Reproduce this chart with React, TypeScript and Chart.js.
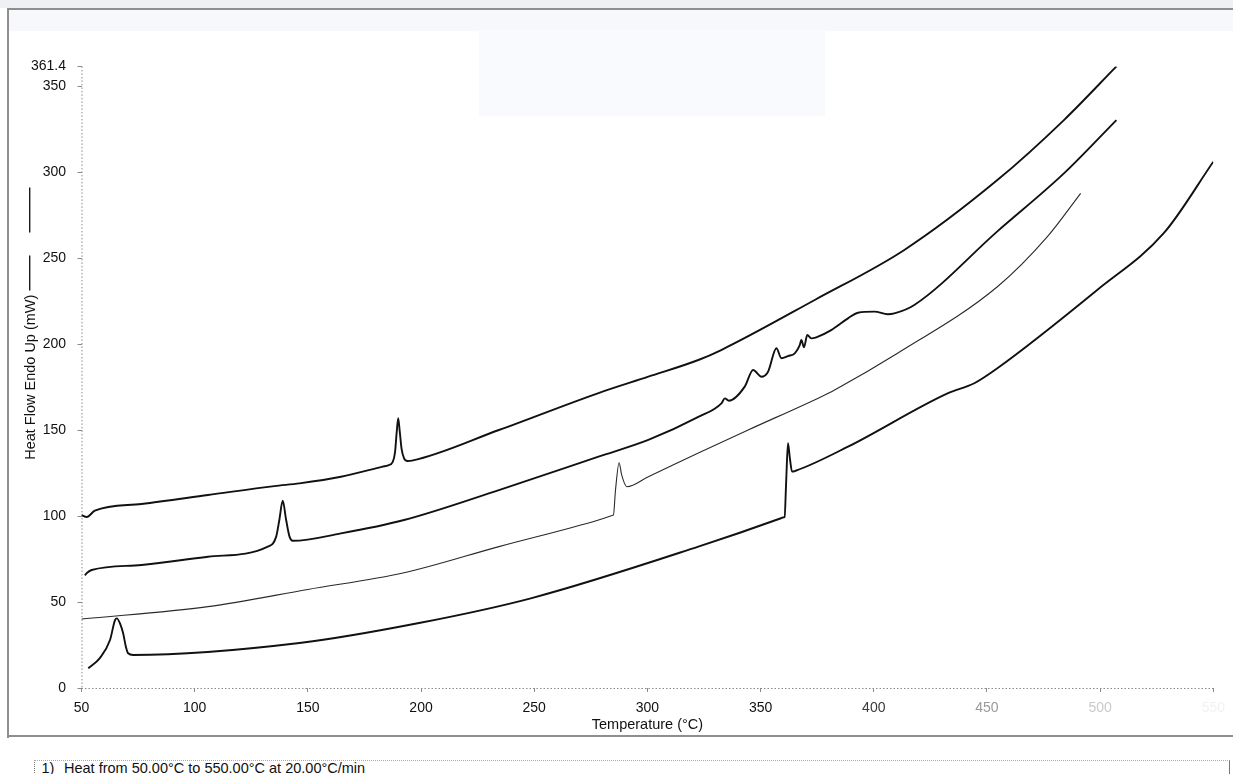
import React, { useEffect, useRef } from "react";
import { Chart, registerables } from "chart.js";

Chart.register(...registerables);

// Axis ticks
const xTicks = [50, 100, 150, 200, 250, 300, 350, 400, 450, 500, 550];
const yTicks = [0, 50, 100, 150, 200, 250, 300, 350, 361.4];

// Run 1 (top trace)
const run1Temp = [50, 52.3, 55.9, 76.5, 105.9, 135.2, 146.3, 164.6, 183.0, 185.5, 187.5, 188.5, 189.2, 189.9, 190.6, 191.4, 192.5, 194.0, 196.0, 234.4, 278.4, 300.4, 322.5, 332.6, 373.9, 413.5, 454.6, 484.0, 507.2];
const run1Flow = [100.5, 99.4, 103.1, 107.0, 112.2, 117.4, 119.0, 122.8, 128.7, 129.5, 131.5, 137.0, 148.0, 156.8, 149.0, 139.0, 133.5, 132.0, 132.2, 150.0, 171.5, 181.0, 190.7, 196.5, 225.6, 254.7, 295.3, 330.2, 361.4];

// Run 2
const run2Temp = [51.5, 52.5, 54.5, 76.5, 105.9, 132.3, 136.0, 137.4, 138.9, 140.4, 141.9, 143.3, 164.6, 192.5, 234.4, 278.4, 300.4, 322.5, 332.7, 334.2, 336.0, 343.0, 346.7, 350.4, 353.3, 357.0, 359.2, 362.1, 365.1, 367.3, 368.0, 369.2, 370.6, 372.4, 374.6, 381.2, 388.6, 393.0, 400.3, 406.2, 409.1, 417.9, 454.6, 484.0, 507.2];
const run2Flow = [65.5, 67.0, 68.6, 71.5, 76.3, 82.2, 88.0, 97.7, 108.9, 97.7, 88.0, 85.6, 89.9, 97.7, 115.1, 134.5, 144.2, 157.6, 165.5, 168.4, 167.0, 175.2, 184.9, 181.0, 183.9, 197.5, 191.7, 193.0, 194.6, 199.4, 202.3, 198.1, 205.2, 203.3, 203.9, 208.1, 214.9, 218.2, 218.8, 217.3, 217.8, 222.7, 265.5, 299.2, 330.2];

// Run 3 (thin trace)
const run3Temp = [50, 105.9, 150.0, 192.5, 234.4, 278.4, 283.4, 284.3, 285.0, 285.9, 287.5, 288.6, 290.9, 300.4, 322.5, 344.5, 376.8, 382.7, 410.5, 454.6, 476.7, 491.4];
const run3Flow = [40.1, 47.3, 57.3, 67.0, 82.2, 97.7, 99.9, 100.3, 100.6, 115.0, 131.0, 124.0, 117.0, 122.8, 136.6, 150.0, 169.4, 173.3, 194.6, 233.3, 262.4, 287.6];

// Run 4 (bottom trace)
const run4Temp = [53.0, 58.1, 62.6, 64.8, 65.6, 67.0, 68.4, 69.6, 70.6, 72.8, 146.3, 199.1, 248.9, 322.5, 359.0, 359.8, 360.6, 361.3, 362.1, 362.9, 363.9, 365.5, 388.6, 432.6, 444.4, 454.6, 498.7, 528.1, 550.0];
const run4Flow = [11.5, 17.4, 27.9, 39.5, 40.5, 37.6, 31.8, 24.0, 20.2, 19.2, 26.2, 37.8, 52.3, 82.2, 98.7, 99.1, 99.4, 120.0, 142.3, 134.0, 125.8, 126.3, 140.3, 171.3, 177.2, 185.9, 231.4, 264.4, 306.0];

const FONT = '"Liberation Sans", Arial, Helvetica, sans-serif';
const Y_TITLE = "Heat Flow Endo Up (mW)";
const Y_TITLE_SIZE = 14.5;
const Y_TITLE_PAD = 22;

const toPoints = (t: number[], v: number[]) => t.map((x, i) => ({ x, y: v[i] }));

// faded lower-axis numbers toward the right
const xTickColor = (v: number) =>
  v >= 550 ? "#f2f2f2" : v >= 500 ? "#c9c9c9" : v >= 450 ? "#9a9a9a" : v >= 400 ? "#3a3a3a" : "#111";

const dottedAxes = {
  id: "dottedAxes",
  beforeDatasetsDraw(chart: any) {
    const { ctx, chartArea: a } = chart;
    ctx.save();
    ctx.strokeStyle = "#8a8a8a";
    ctx.lineWidth = 1;
    ctx.setLineDash([1.5, 2]);
    ctx.beginPath();
    ctx.moveTo(a.left + 0.5, a.top);
    ctx.lineTo(a.left + 0.5, a.bottom);
    ctx.moveTo(a.left, a.bottom + 0.5);
    ctx.lineTo(a.right, a.bottom + 0.5);
    ctx.stroke();
    ctx.restore();
  },
};

// line sample drawn after the y-axis title
const titleLine = {
  id: "titleLine",
  afterDraw(chart: any) {
    const y = chart.scales.y;
    const ctx = chart.ctx;
    ctx.save();
    ctx.font = `${Y_TITLE_SIZE}px ${FONT}`;
    const w = ctx.measureText(Y_TITLE).width;
    const cx = y.left + (Y_TITLE_SIZE * 1.2) / 2 + Y_TITLE_PAD - 1;
    const top = (y.top + y.bottom) / 2 - w / 2;
    ctx.strokeStyle = "#1a1a1a";
    ctx.lineWidth = 1.4;
    ctx.beginPath();
    ctx.moveTo(cx, top - 4);
    ctx.lineTo(cx, top - 39);
    ctx.moveTo(cx, top - 62);
    ctx.lineTo(cx, top - 107);
    ctx.stroke();
    ctx.restore();
  },
};

export default function App() {
  const ref = useRef<HTMLCanvasElement>(null);

  useEffect(() => {
    if (!ref.current) return;
    Chart.defaults.font.family = FONT;
    const trace = (data: any[], width: number, color: string) => ({
      data,
      borderColor: color,
      borderWidth: width,
      pointRadius: 0,
      fill: false,
      cubicInterpolationMode: "monotone" as const,
    });
    const chart = new Chart(ref.current, {
      type: "line",
      data: {
        datasets: [
          trace(toPoints(run1Temp, run1Flow), 1.9, "#111"),
          trace(toPoints(run2Temp, run2Flow), 1.9, "#111"),
          trace(toPoints(run3Temp, run3Flow), 1.1, "#2a2a2a"),
          trace(toPoints(run4Temp, run4Flow), 1.9, "#111"),
        ],
      },
      options: {
        animation: false,
        responsive: false,
        events: [],
        layout: { padding: { left: 0, top: 66.4, right: 16.5, bottom: 0 } },
        plugins: { legend: { display: false }, tooltip: { enabled: false } },
        scales: {
          x: {
            type: "linear",
            min: 50,
            max: 550,
            afterFit: (s: any) => {
              s.height = 52;
            },
            afterBuildTicks: (s: any) => {
              s.ticks = xTicks.map((value) => ({ value }));
            },
            border: { display: false },
            grid: { drawOnChartArea: false, drawTicks: true, tickLength: 4, color: "#8a8a8a" },
            ticks: {
              autoSkip: false,
              maxRotation: 0,
              padding: 8,
              font: { size: 14 },
              color: (c: any) => xTickColor(c.tick.value),
              callback: (v: any) => String(v),
            },
            title: {
              display: true,
              text: "Temperature (°C)",
              color: "#111",
              font: { size: 14.5 },
              padding: { top: 0, bottom: 6.3 },
            },
          },
          y: {
            type: "linear",
            min: 0,
            max: 361.4,
            afterFit: (s: any) => {
              s.width = 81.5;
            },
            afterBuildTicks: (s: any) => {
              s.ticks = yTicks.map((value) => ({ value }));
            },
            border: { display: false },
            grid: { drawOnChartArea: false, drawTicks: true, tickLength: 4, color: "#8a8a8a" },
            ticks: {
              autoSkip: false,
              padding: 11.5,
              font: { size: 14 },
              color: "#111",
              callback: (v: any) => (v === 361.4 ? "361.4" : String(v)),
            },
            title: {
              display: true,
              text: Y_TITLE,
              color: "#111",
              font: { size: Y_TITLE_SIZE },
              padding: { top: Y_TITLE_PAD, bottom: 0 },
            },
          },
        },
      },
      plugins: [dottedAxes, titleLine],
    });
    return () => chart.destroy();
  }, []);

  const frame = "#8e8e8e";
  return (
    <div
      style={{
        position: "fixed",
        left: 0,
        top: 0,
        width: 1233,
        height: 774,
        background: "#fff",
        overflow: "hidden",
        fontFamily: FONT,
      }}
    >
      <div style={{ position: "absolute", left: 0, top: 0, width: 1233, height: 8, background: "#eef0f4" }} />
      <div style={{ position: "absolute", left: 9, top: 9.5, width: 1224, height: 21, background: "#f6f8fb" }} />
      <div style={{ position: "absolute", left: 479, top: 30, width: 346, height: 86, background: "#f9fafd" }} />
      <div style={{ position: "absolute", left: 7, top: 7.5, width: 1226, height: 2, background: frame }} />
      <div style={{ position: "absolute", left: 7, top: 7.5, width: 2, height: 730, background: frame }} />
      <div style={{ position: "absolute", left: 7, top: 735, width: 1226, height: 2, background: frame }} />
      <canvas
        ref={ref}
        width={1233}
        height={740}
        style={{ position: "absolute", left: 0, top: 0, width: 1233, height: 740 }}
      />
      <div
        style={{
          position: "absolute",
          left: 34,
          top: 760,
          width: 1194,
          height: 16,
          borderTop: "1px dotted #aaa",
          borderLeft: "1px dotted #777",
          borderRight: "1px solid #777",
        }}
      />
      <div
        style={{
          position: "absolute",
          left: 41.5,
          top: 760,
          lineHeight: "16px",
          fontSize: 14.5,
          color: "#111",
          whiteSpace: "pre",
        }}
      >
        <span>1)</span>
        <span style={{ position: "absolute", left: 22.5 }}>Heat from 50.00°C to 550.00°C at 20.00°C/min</span>
      </div>
    </div>
  );
}
